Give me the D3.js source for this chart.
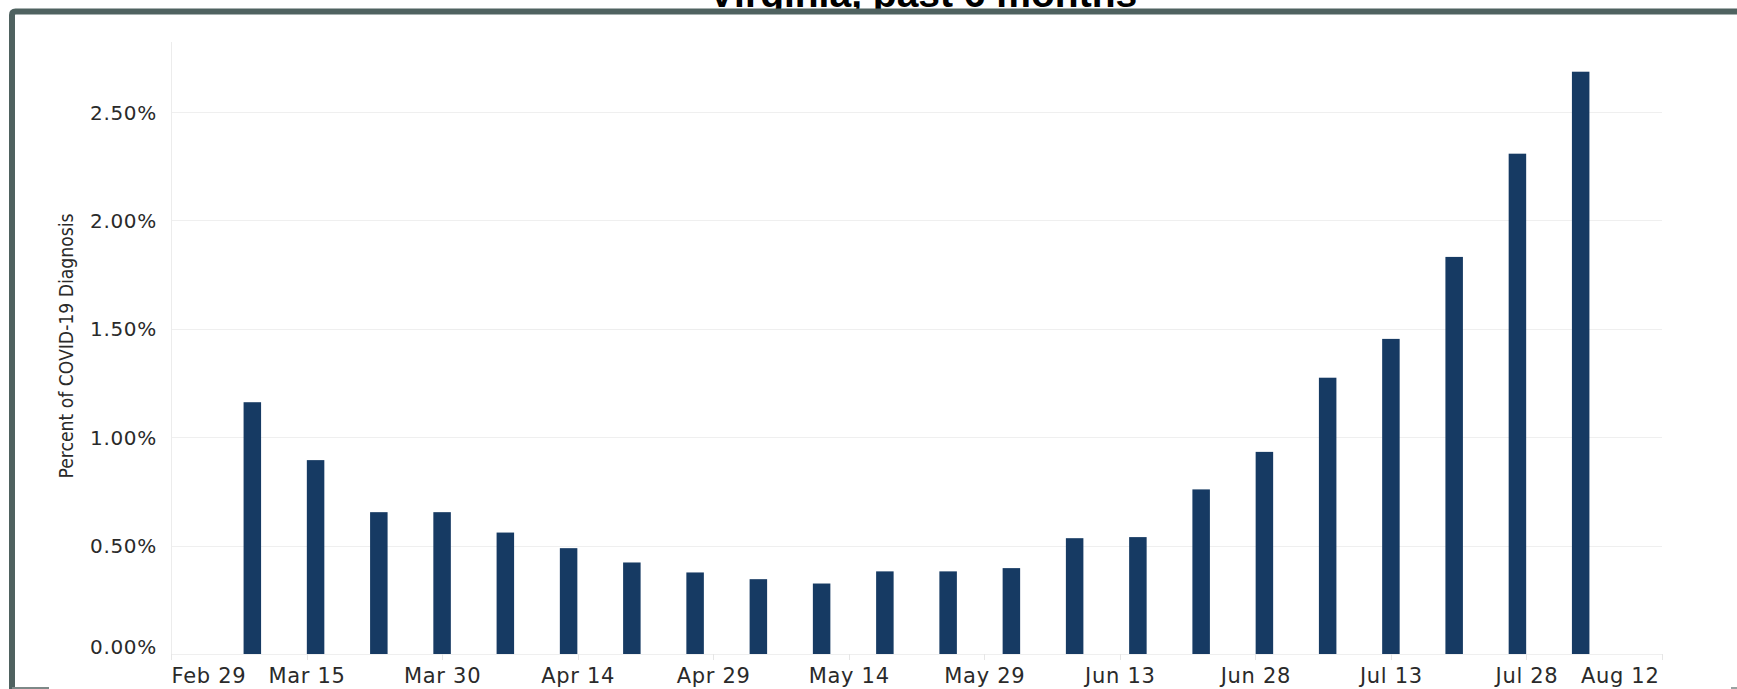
<!DOCTYPE html>
<html>
<head>
<meta charset="utf-8">
<title>Virginia, past 6 months</title>
<script src="https://cdn.jsdelivr.net/npm/d3@7"></script>
<style>
    body { margin: 0; background: #fff; }
    .axis text { font-family: "DejaVu Sans", Verdana, sans-serif; font-size: 20px; fill: #2a2a2a; letter-spacing: 0.7px; }
    .x-axis text { font-size: 21px; }
</style>
</head>
<body>
<div id="chart"></div>
<script>

// weekly buckets (week starting monday)
var weekStarts = ["2020-03-09", "2020-03-16", "2020-03-23", "2020-03-30", "2020-04-06", "2020-04-13",
    "2020-04-20", "2020-04-27", "2020-05-04", "2020-05-11", "2020-05-18", "2020-05-25", "2020-06-01",
    "2020-06-08", "2020-06-15", "2020-06-22", "2020-06-29", "2020-07-06", "2020-07-13", "2020-07-20",
    "2020-07-27", "2020-08-03"];

// percent of visits with a COVID-19 diagnosis
var pctDiagnosis = [1.161, 0.894, 0.654, 0.654, 0.560, 0.488, 0.422, 0.376, 0.345, 0.325, 0.381,
    0.381, 0.396, 0.534, 0.539, 0.759, 0.932, 1.274, 1.453, 1.831, 2.307, 2.685];

var xDomain = ["2020-02-29", "2020-08-12"];
var xTickDates = ["2020-02-29", "2020-03-15", "2020-03-30", "2020-04-14", "2020-04-29", "2020-05-14",
    "2020-05-29", "2020-06-13", "2020-06-28", "2020-07-13", "2020-07-28", "2020-08-12"];
var yTickValues = [0, 0.5, 1, 1.5, 2, 2.5];
var yMax = 2.822;

var chartTitle = "Virginia, past 6 months";
var yTitle = "Percent of COVID-19 Diagnosis";


var parseDate = d3.utcParse("%Y-%m-%d");
var formatTick = d3.utcFormat("%b %-d");

var data = weekStarts.map(function(d, i) {
    return { week: parseDate(d), value: pctDiagnosis[i] };
});

var width = 1737, height = 689;
var plot = { left: 171, right: 1662, top: 42, bottom: 654 };

var svg = d3.select("#chart").append("svg")
    .attr("width", width)
    .attr("height", height);

var x = d3.scaleUtc()
    .domain(xDomain.map(parseDate))
    .range([plot.left, plot.right]);

var y = d3.scaleLinear()
    .domain([0, yMax])
    .range([plot.bottom, plot.top]);

// title, only the lower part shows above the frame
svg.append("clipPath").attr("id", "titleClip")
    .append("rect").attr("x", 0).attr("y", 0).attr("width", width).attr("height", 9);

svg.append("text")
    .attr("clip-path", "url(#titleClip)")
    .attr("x", 923)
    .attr("y", 7)
    .attr("text-anchor", "middle")
    .style("font-family", "'Liberation Sans', Arial, sans-serif")
    .style("font-weight", "bold")
    .style("font-size", "39px")
    .style("fill", "#000")
    .text(chartTitle);

// y axis + gridlines
var yAxis = d3.axisLeft(y)
    .tickValues(yTickValues)
    .tickSize(-(plot.right - plot.left))
    .tickPadding(14)
    .tickFormat(function(d) { return d3.format(".2f")(d) + "%"; });

var gy = svg.append("g")
    .attr("class", "axis y-axis")
    .attr("transform", "translate(" + plot.left + ",0)")
    .call(yAxis);

gy.select(".domain").remove();
gy.selectAll(".tick line")
    .attr("stroke", "#efefef")
    .attr("shape-rendering", "crispEdges");
gy.selectAll(".tick text")
    .attr("dy", function(d) { return d === 0 ? "-0.02em" : "0.36em"; });

// left axis rule
svg.append("line")
    .attr("x1", plot.left).attr("x2", plot.left)
    .attr("y1", plot.top).attr("y2", plot.bottom + 6)
    .attr("stroke", "#ececec")
    .attr("shape-rendering", "crispEdges");

// x axis
var xAxis = d3.axisBottom(x)
    .tickValues(xTickDates.map(parseDate))
    .tickSize(6)
    .tickFormat(formatTick);

var gx = svg.append("g")
    .attr("class", "axis x-axis")
    .attr("transform", "translate(0," + plot.bottom + ")")
    .call(xAxis);

gx.select(".domain").remove();
gx.selectAll(".tick line")
    .attr("stroke", "#e6e6e6")
    .attr("shape-rendering", "crispEdges");

var nTicks = xTickDates.length;
gx.selectAll(".tick text")
    .attr("y", 29)
    .attr("dy", 0)
    .attr("text-anchor", function(d, i) {
        if (i == 0) return "start";
        if (i == nTicks - 1) return "end";
        return "middle";
    })
    .attr("x", function(d, i) { return i == nTicks - 1 ? -3 : 0; });

// bars
var barWidth = 17.5;

svg.append("g").selectAll("rect")
    .data(data)
    .enter()
    .append("rect")
    .attr("x", function(d) { return x(d.week) - barWidth / 2; })
    .attr("y", function(d) { return y(d.value); })
    .attr("width", barWidth)
    .attr("height", function(d) { return y(0) - y(d.value); })
    .attr("fill", "#163a63");

// y title
svg.append("text")
    .attr("transform", "translate(73,346) rotate(-90)")
    .attr("text-anchor", "middle")
    .attr("textLength", 265)
    .attr("lengthAdjust", "spacingAndGlyphs")
    .style("font-family", "'Liberation Sans Narrow', 'DejaVu Sans Condensed', 'Liberation Sans', sans-serif")
    .style("font-size", "20px")
    .style("fill", "#2a2a2a")
    .text(yTitle);

// dashboard frame
svg.append("path")
    .attr("d", "M12,689 L12,15 Q12,11.5 15.5,11.5 L" + width + ",11.5")
    .attr("fill", "none")
    .attr("stroke", "#4f6260")
    .attr("stroke-width", 6);

svg.append("line")
    .attr("x1", 12).attr("x2", 49)
    .attr("y1", 688).attr("y2", 688)
    .attr("stroke", "#7d8988")
    .attr("stroke-width", 2);

svg.append("line")
    .attr("x1", 1731).attr("x2", width)
    .attr("y1", 688).attr("y2", 688)
    .attr("stroke", "#9aa3a2")
    .attr("stroke-width", 2);

</script>
</body>
</html>
